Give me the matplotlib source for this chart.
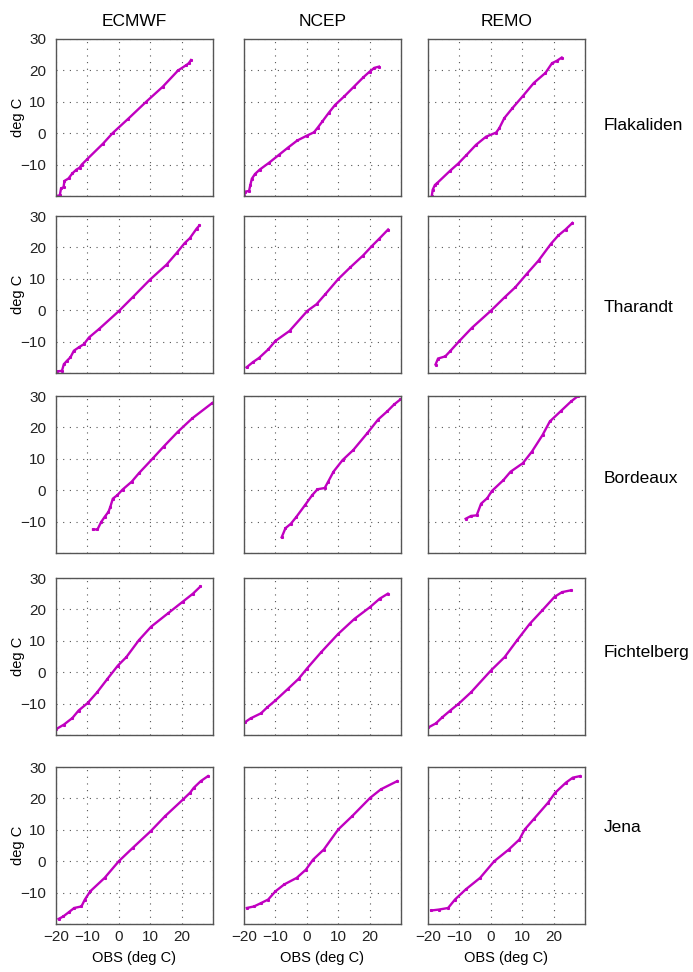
import matplotlib
matplotlib.use("Agg")
import matplotlib.pyplot as plt

plt.rcParams['font.family'] = ['Liberation Sans', 'DejaVu Sans']

models = ["ECMWF", "NCEP", "REMO"]
sites = ["Flakaliden", "Tharandt", "Bordeaux", "Fichtelberg", "Jena"]

# quantile pairs (observed, modelled) per site and model, deg C
flak_ecmwf_obs = [-20, -18.8, -18.4, -17.6, -17.3, -16, -14.8, -13.5, -12.5, -11.8, -10, -5, -2, 3, 8.7, 14, 18.9, 21.5, 22.3, 23]
flak_ecmwf_mod = [-20, -19.8, -17.6, -17.2, -15.2, -14.4, -12.8, -11.6, -11, -10, -8.2, -3.3, 0, 4.6, 10, 14.8, 20, 21.7, 22.3, 23.3]
flak_ncep_obs = [-20, -19.6, -18.4, -18, -17.5, -16.5, -15, -12, -9, -6, -3, 0, 2.3, 3.5, 5, 7, 9, 12, 15, 18, 20, 21.5, 23]
flak_ncep_mod = [-20, -18.6, -18.4, -16.6, -14.5, -13, -11.6, -9.4, -7, -4.6, -2.3, -0.8, 0.3, 1.8, 3.8, 6.5, 9, 11.8, 14.8, 17.8, 19.6, 20.8, 21.2]
flak_remo_obs = [-18.8, -18.5, -17.8, -17, -13, -10.4, -7.8, -4.7, -1.5, 1.7, 2.7, 4.3, 6.9, 10.1, 13.7, 17.4, 19.5, 21.1, 22.6]
flak_remo_mod = [-20, -18, -16.5, -15.8, -12, -9.7, -7, -3.7, -1.1, 0.2, 1.6, 4.8, 8, 11.7, 16, 19.2, 22.3, 23.1, 24.1]

thar_ecmwf_obs = [-19.7, -18.1, -17.5, -16.5, -15.4, -14.3, -12.7, -11.1, -9.5, -6.3, 0, 4.6, 9.9, 15.2, 18.4, 21, 22.6, 24.8, 25.7]
thar_ecmwf_mod = [-19.5, -19.3, -17.2, -16.1, -15, -12.9, -11.8, -10.8, -8.7, -6, -0.3, 4.3, 9.7, 14.5, 18.2, 21.4, 22.9, 26, 27]
thar_ncep_obs = [-19.2, -17.1, -15.2, -12.3, -10, -5.5, 0.2, 3.1, 5.9, 10, 13.9, 17.9, 20.8, 23.1, 25.9]
thar_ncep_mod = [-18.2, -16.5, -15.2, -12.5, -9.8, -6.6, -0.2, 1.9, 5.1, 9.9, 13.7, 17.4, 20.5, 22.8, 25.7]
thar_remo_obs = [-17.6, -16.8, -14.5, -12.9, -10, -6, 0, 4.4, 7.8, 11.4, 15.2, 19.2, 21.5, 23.8, 26]
thar_remo_mod = [-17.3, -15.4, -14.7, -13, -9.8, -5.6, -0.2, 4.1, 7.3, 11.5, 15.8, 21.2, 23.8, 25.7, 27.8]

bord_ecmwf_obs = [-8.2, -6.8, -5.6, -4.5, -3.3, -2.7, -1.9, -0.5, 1.2, 4.1, 6.4, 10.9, 14.3, 18.8, 23.4, 29.8]
bord_ecmwf_mod = [-12.5, -12.5, -10.1, -8.5, -6.9, -5.3, -2.7, -1.6, 0.2, 2.7, 5.4, 10.2, 13.9, 18.6, 22.9, 27.8]
bord_ncep_obs = [-8, -6.8, -5.1, -3.4, -0.6, 1.7, 3.4, 5.7, 6.8, 8.5, 11.4, 14.8, 19.3, 22.7, 25.6, 27.8, 29.8]
bord_ncep_mod = [-15, -12.1, -10.7, -8.6, -4.8, -1.6, 0.3, 0.7, 2.7, 5.9, 9.6, 12.8, 18.2, 22.5, 25.1, 27.3, 28.9]
bord_remo_obs = [-8, -6.3, -4.5, -3.1, -1.1, 0.3, 4, 6.3, 10.2, 13.1, 16.5, 18.8, 22.2, 25.6, 27.8]
bord_remo_mod = [-9.1, -8.2, -8, -4.3, -2.5, -0.3, 3.2, 5.9, 8.6, 12.3, 17.6, 21.9, 25.1, 28.3, 30]

ficht_ecmwf_obs = [-19.9, -17.5, -14.8, -12.8, -9.9, -6.9, -3.6, -0.3, 2.4, 6.4, 10.3, 15.6, 20.3, 23.6, 26]
ficht_ecmwf_mod = [-18.1, -16.7, -14.6, -12.2, -9.8, -6.4, -2.1, 2.1, 4.8, 10.2, 14.5, 18.7, 22.4, 25, 27.3]
ficht_ncep_obs = [-19.8, -17.9, -14.6, -12.6, -10, -6, -2.6, 0, 4.6, 10, 15.2, 20.1, 23.2, 25.8]
ficht_ncep_mod = [-16, -14.7, -13.1, -11.2, -9, -5.3, -2.1, 1.1, 6.4, 12.2, 17, 20.7, 23.4, 25]
ficht_remo_obs = [-19.9, -17.5, -15.5, -12.9, -10.3, -6.3, 0, 4.4, 8.4, 12.4, 16.4, 20.3, 22.7, 25.6]
ficht_remo_mod = [-17.6, -16.3, -14.4, -12.2, -10.1, -6.4, 0.5, 4.8, 10.2, 15.4, 19.7, 24, 25.5, 26.1]

jena_ecmwf_obs = [-19.2, -17.7, -16, -14.2, -11.9, -10.8, -9.1, -4.5, 0, 4.5, 10.2, 14.8, 20.5, 22.7, 23.9, 26.1, 28.4]
jena_ecmwf_mod = [-18.4, -17.6, -16.3, -14.9, -14.4, -12.2, -9.6, -5.3, 0, 4.3, 9.6, 14.4, 19.7, 21.8, 23.4, 25.5, 27.1]
jena_ncep_obs = [-19.1, -16.8, -14.5, -12.3, -10, -7.2, -3.2, -0.3, 2, 5.4, 10, 14.5, 20.2, 23.6, 28.8]
jena_ncep_mod = [-14.9, -14.4, -13.3, -12.2, -9.6, -7.4, -5.3, -2.7, 0.5, 3.7, 10.1, 14.4, 20.2, 22.9, 25.5]
jena_remo_obs = [-19, -16.5, -13.6, -11.4, -8, -3.4, 1.1, 5.7, 9.1, 10.8, 13.6, 18.2, 20.5, 23.9, 26.1, 28.4]
jena_remo_mod = [-15.7, -15.4, -14.9, -12.2, -9, -5.3, 0, 3.7, 6.9, 10.1, 13.3, 18.6, 21.8, 25, 26.6, 27.1]

panels = [
    [(flak_ecmwf_obs, flak_ecmwf_mod), (flak_ncep_obs, flak_ncep_mod), (flak_remo_obs, flak_remo_mod)],
    [(thar_ecmwf_obs, thar_ecmwf_mod), (thar_ncep_obs, thar_ncep_mod), (thar_remo_obs, thar_remo_mod)],
    [(bord_ecmwf_obs, bord_ecmwf_mod), (bord_ncep_obs, bord_ncep_mod), (bord_remo_obs, bord_remo_mod)],
    [(ficht_ecmwf_obs, ficht_ecmwf_mod), (ficht_ncep_obs, ficht_ncep_mod), (ficht_remo_obs, ficht_remo_mod)],
    [(jena_ecmwf_obs, jena_ecmwf_mod), (jena_ncep_obs, jena_ncep_mod), (jena_remo_obs, jena_remo_mod)],
]

ticks = [-20, -10, 0, 10, 20, 30]
ytick_labels = ["", "\u221210", "0", "10", "20", "30"]
xtick_labels = ["\u221220", "\u221210", "0", "10", "20", ""]

W, H = 693, 972
fig = plt.figure(figsize=(W / 100, H / 100), dpi=100)

col_left = [56, 244, 428]
row_top = [39, 216, 396, 578, 767]
size = 157
site_label_y = [125, 308, 478, 652, 827]
magenta = "#c000c0"

for r, site in enumerate(sites):
    for c, model in enumerate(models):
        ax = fig.add_axes([col_left[c] / W, 1 - (row_top[r] + size) / H, size / W, size / H])
        obs, mod = panels[r][c]
        ax.plot(obs, mod, color=magenta, lw=1.7, marker="s", ms=1.2, mec=magenta, mfc=magenta,
                solid_joinstyle="miter")
        ax.set_xlim(-20, 30)
        ax.set_ylim(-20, 30)
        ax.set_xticks(ticks)
        ax.set_yticks(ticks)
        ax.grid(True, color="#555555", linestyle=(0, (1, 5)), linewidth=0.8)
        ax.tick_params(length=0, labelsize=11, colors="#222222")
        for s in ax.spines.values():
            s.set_color("#555555")
            s.set_linewidth(1.0)
        if c == 0:
            ax.set_yticklabels(ytick_labels)
            ax.tick_params(axis="y", pad=7)
        else:
            ax.set_yticklabels([])
        if r == len(sites) - 1:
            ax.set_xticklabels(xtick_labels)
            ax.tick_params(axis="x", pad=4)
            fig.text((col_left[c] + size / 2) / W, 1 - 958 / H, "OBS (deg C)",
                     ha="center", va="center", fontsize=10.5)
        else:
            ax.set_xticklabels([])
        if r == 0:
            fig.text((col_left[c] + size / 2) / W, 1 - 22 / H, model,
                     ha="center", va="center", fontsize=12.5)
    # Bordeaux row has no y-axis label
    if site != "Bordeaux":
        fig.text(18 / W, 1 - (row_top[r] + size / 2) / H, "deg C", rotation=90,
                 ha="center", va="center", fontsize=10.5)
    fig.text(604 / W, 1 - site_label_y[r] / H, site, ha="left", va="center", fontsize=12.5)

fig.savefig("out.png", dpi=100)
